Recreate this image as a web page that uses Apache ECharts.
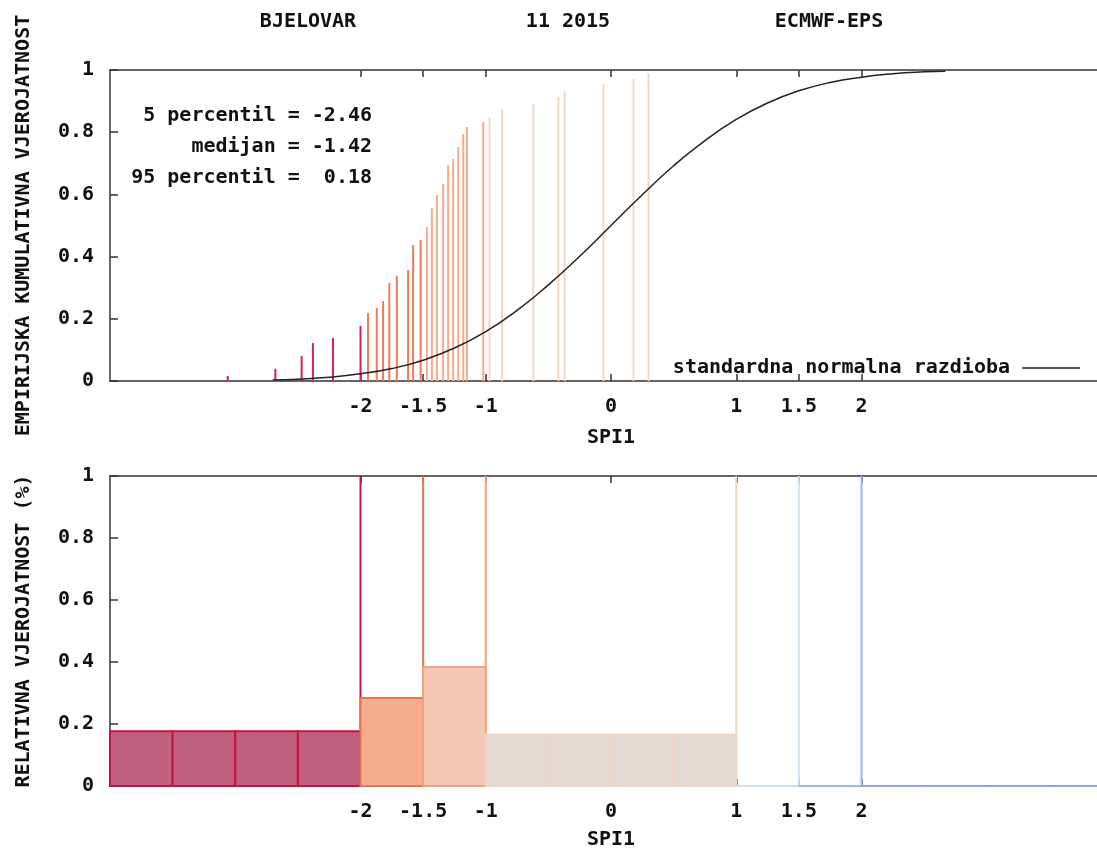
<!DOCTYPE html>
<html>
<head>
    <meta charset="utf-8" />
    <title>BJELOVAR 11 2015 ECMWF-EPS</title>
    <script src="https://cdn.jsdelivr.net/npm/echarts@6/dist/echarts.min.js"></script>
    <style>
        html, body { margin: 0; padding: 0; background: #fff; overflow: hidden; }
        /* desni rub okvira je izvan slike, kao u originalu */
        #chart { width: 1112px; height: 855px; }
    </style>
</head>
<body>
    <div id="chart"></div>
    <script type="text/javascript">
        // clanovi ansambla: SPI1 i empirijska kumulativna vjerojatnost
        var memberSpi = [-3.06, -2.68, -2.47, -2.38, -2.22, -2.00, -1.94, -1.87, -1.82, -1.77, -1.71, -1.62, -1.58, -1.52, -1.47, -1.43,
            -1.39, -1.34, -1.30, -1.26, -1.22, -1.18, -1.15, -1.02, -0.97, -0.87, -0.62, -0.42, -0.37, -0.06, 0.18, 0.30];
        var memberCdf = [0.016, 0.039, 0.080, 0.122, 0.138, 0.177, 0.219, 0.235, 0.257, 0.315, 0.338, 0.357, 0.437, 0.453, 0.495, 0.556,
            0.598, 0.633, 0.695, 0.714, 0.752, 0.794, 0.817, 0.833, 0.849, 0.875, 0.891, 0.913, 0.932, 0.955, 0.971, 0.990];

        // standardna normalna razdioba (ocitano sa slike)
        var normSpi = [-2.7, -2.5, -2.25, -2, -1.75, -1.5, -1.25, -1, -0.75, -0.5, -0.25, 0, 0.25, 0.5, 0.75, 1, 1.25, 1.5, 1.75, 2, 2.25, 2.5, 2.67];
        var normCdf = [0.003, 0.006, 0.012, 0.023, 0.040, 0.067, 0.106, 0.159, 0.227, 0.309, 0.401, 0.5, 0.599, 0.692, 0.773, 0.841, 0.894,
            0.933, 0.960, 0.977, 0.988, 0.994, 0.996];

        // klase SPI i relativna vjerojatnost
        var classEdges = [-4, -2, -1.5, -1, 1, 1.5, 2, 4];
        var classProb = [0.177, 0.284, 0.384, 0.165, 0, 0, 0];

        var xTicks = [-2, -1.5, -1, 0, 1, 1.5, 2];
        var percentText = ['5 percentil = -2.46', 'medijan = -1.42', '95 percentil =  0.18'];

        // boje klasa
        var impulseColor = ['#d42350', '#f07a5c', '#f7a98b', '#f4d6c6', '#cddcf8', '#a0bcf2', '#86a8ef'];
        var barFill = ['#c1607e', '#f5ad8d', '#f4c8b4', '#e3d9d4', '#e8eefa', '#dde6f8', '#d6e2fa'];
        var barLine = ['#c4123f', '#ea7450', '#f2a282', '#f1d3c3', '#cddcf8', '#9cb8f2', '#86a8ef'];

        var FONT = '"DejaVu Sans Mono", "Liberation Mono", monospace';
        var FS = 20;

        function classOf(v) {
            for (var i = 1; i < classEdges.length; i++) {
                if (v <= classEdges[i]) return i - 1;
            }
            return classEdges.length - 2;
        }

        var impulseData = memberSpi.map(function (x, i) { return [x, memberCdf[i]]; });
        var normData = normSpi.map(function (x, i) { return [x, normCdf[i]]; });
        var barData = classProb.map(function (p, i) { return [classEdges[i], classEdges[i + 1], p, i]; });
        var edgeData = classEdges.slice(1, -1).map(function (e, i) { return [e, i]; });

        function xAxisPair(grid) {
            var common = {
                type: 'value', gridIndex: grid, min: -4, max: 4,
                axisLine: { show: true, onZero: false, lineStyle: { color: '#333', width: 1.5 } },
                splitLine: { show: false }
            };
            return [
                Object.assign({}, common, {
                    position: 'bottom',
                    name: 'SPI1', nameLocation: 'middle', nameGap: grid === 0 ? 47 : 44,
                    nameTextStyle: { fontFamily: FONT, fontSize: FS, fontWeight: 'bold', color: '#111' },
                    axisTick: { inside: true, length: 7, customValues: xTicks, lineStyle: { color: '#333', width: 1.5 } },
                    axisLabel: {
                        customValues: xTicks, margin: 16, fontFamily: FONT, fontSize: FS, fontWeight: 'bold', color: '#111',
                        formatter: function (v) { return String(v); }
                    }
                }),
                Object.assign({}, common, {
                    position: 'top',
                    axisTick: { inside: true, length: 7, customValues: xTicks, lineStyle: { color: '#333', width: 1.5 } },
                    axisLabel: { show: false }
                })
            ];
        }

        function yAxisOf(grid, name) {
            return {
                type: 'value', gridIndex: grid, min: 0, max: 1, interval: 0.2,
                name: name, nameLocation: 'middle', nameRotate: 90, nameGap: 76,
                nameTextStyle: { fontFamily: FONT, fontSize: FS, fontWeight: 'bold', color: '#111' },
                axisLine: { show: true, onZero: false, lineStyle: { color: '#333', width: 1.5 } },
                axisTick: { inside: true, length: 8, lineStyle: { color: '#333', width: 1.5 } },
                axisLabel: { margin: 16, fontFamily: FONT, fontSize: FS, fontWeight: 'bold', color: '#111' },
                splitLine: { show: false }
            };
        }

        var myChart = echarts.init(document.getElementById('chart'));

        myChart.setOption({
            animation: false,
            backgroundColor: '#fff',
            graphic: [['BJELOVAR', 308], ['11 2015', 568], ['ECMWF-EPS', 829]].map(function (t) {
                return {
                    type: 'text', x: t[1], y: 22,
                    style: { text: t[0], font: 'bold ' + FS + 'px ' + FONT, fill: '#111', align: 'center', verticalAlign: 'middle' }
                };
            }).concat(percentText.map(function (t, i) {
                return {
                    type: 'text', x: 372, y: 116 + i * 31,
                    style: { text: t, font: 'bold ' + FS + 'px ' + FONT, fill: '#111', align: 'right', verticalAlign: 'middle' }
                };
            })),
            legend: {
                data: [{ name: 'standardna normalna razdioba', icon: 'rect' }],
                right: 27, top: 353, align: 'right',
                itemWidth: 58, itemHeight: 1.5,
                itemStyle: { color: '#222' },
                textStyle: { fontFamily: FONT, fontSize: FS, fontWeight: 'bold', color: '#111', padding: [0, 7, 0, 0] }
            },
            grid: [
                { left: 110, top: 70, right: 0, height: 311 },
                { left: 110, top: 476, right: 0, height: 310 }
            ],
            xAxis: xAxisPair(0).concat(xAxisPair(1)),
            yAxis: [
                yAxisOf(0, 'EMPIRIJSKA KUMULATIVNA VJEROJATNOST'),
                yAxisOf(1, 'RELATIVNA VJEROJATNOST (%)')
            ],
            series: [
                {
                    name: 'clanovi',
                    type: 'custom',
                    xAxisIndex: 0, yAxisIndex: 0,
                    data: impulseData,
                    renderItem: function (params, api) {
                        var x = api.value(0), y = api.value(1);
                        var p0 = api.coord([x, 0]), p1 = api.coord([x, y]);
                        return {
                            type: 'line',
                            shape: { x1: p0[0], y1: p0[1], x2: p1[0], y2: p1[1] },
                            style: { stroke: impulseColor[classOf(x)], lineWidth: 2 }
                        };
                    }
                },
                {
                    name: 'standardna normalna razdioba',
                    type: 'line',
                    xAxisIndex: 0, yAxisIndex: 0,
                    data: normData,
                    smooth: true,
                    symbol: 'none',
                    z: 3,
                    lineStyle: { color: '#222', width: 1.5 },
                    itemStyle: { color: '#222' }
                },
                {
                    name: 'granice',
                    type: 'custom',
                    xAxisIndex: 2, yAxisIndex: 1,
                    data: edgeData,
                    renderItem: function (params, api) {
                        var e = api.value(0), c = api.value(1);
                        var p0 = api.coord([e, 0]), p1 = api.coord([e, 1]);
                        return {
                            type: 'line',
                            shape: { x1: p0[0], y1: p0[1], x2: p1[0], y2: p1[1] },
                            style: { stroke: barLine[c], lineWidth: 2 }
                        };
                    }
                },
                {
                    name: 'klase',
                    type: 'custom',
                    xAxisIndex: 2, yAxisIndex: 1,
                    encode: { x: [0, 1], y: 2 },
                    data: barData,
                    z: 3,
                    renderItem: function (params, api) {
                        var a = api.value(0), b = api.value(1), p = api.value(2), c = api.value(3);
                        var kids = [];
                        for (var s = a; s < b - 1e-9; s += 0.5) {
                            var tl = api.coord([s, p]), br = api.coord([Math.min(s + 0.5, b), 0]);
                            kids.push({
                                type: 'rect',
                                shape: { x: tl[0], y: tl[1], width: br[0] - tl[0], height: br[1] - tl[1] },
                                style: { fill: p > 0 ? barFill[c] : 'none', stroke: barLine[c], lineWidth: 2 }
                            });
                        }
                        return { type: 'group', children: kids };
                    }
                }
            ]
        });
    </script>
</body>
</html>
